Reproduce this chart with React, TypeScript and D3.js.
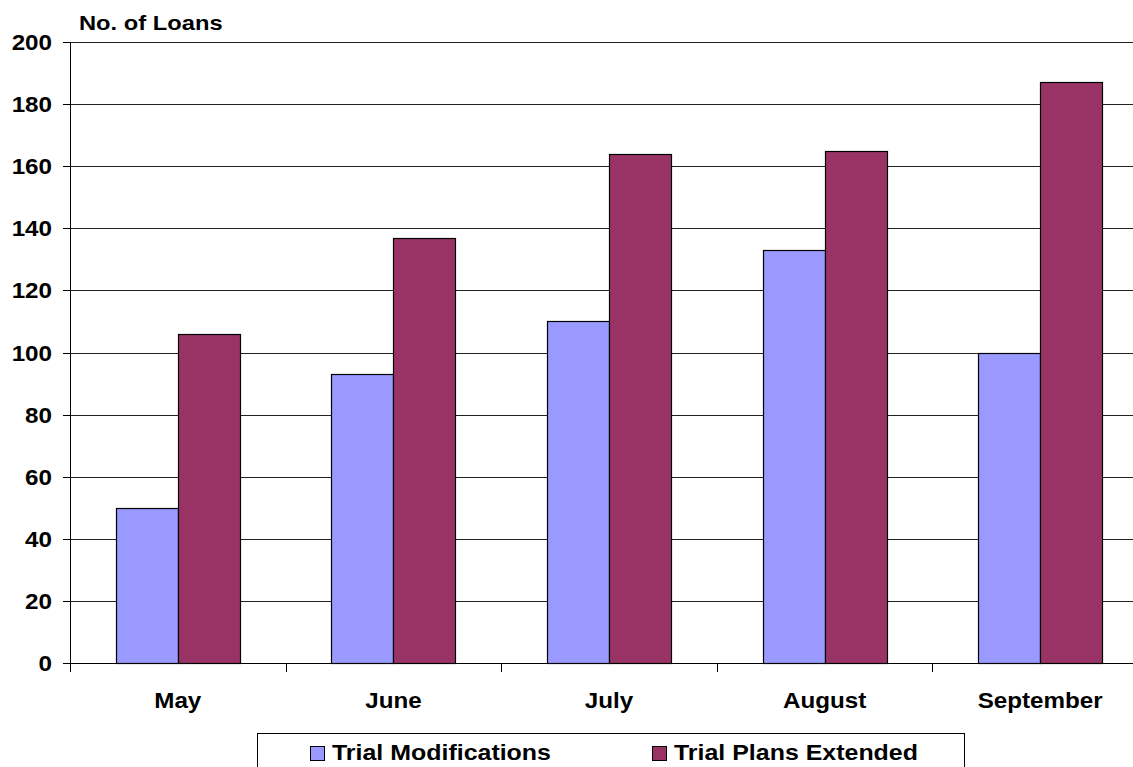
import React from "react";
import * as d3 from "d3";

const months = ["May", "June", "July", "August", "September"];
const trialModifications = [50, 93, 110, 133, 100];
const trialPlansExtended = [106, 137, 164, 165, 187];
const yTicks = [0, 20, 40, 60, 80, 100, 120, 140, 160, 180, 200];
const seriesNames = ["Trial Modifications", "Trial Plans Extended"];
const seriesColors = ["#9999FF", "#993366"];

const W = 1133;
const H = 767;
const FONT = "'Liberation Sans', Arial, sans-serif";

// Bold label, slightly widened horizontally
function Label(props: {
  x: number;
  y: number;
  size: number;
  sx?: number;
  anchor?: "start" | "middle" | "end";
  children: React.ReactNode;
}) {
  const { x, y, size, sx = 1.1, anchor = "start", children } = props;
  return (
    <text
      transform={`translate(${x},${y}) scale(${sx},1)`}
      textAnchor={anchor}
      fontSize={size}
      fontWeight="bold"
      fill="#000"
    >
      {children}
    </text>
  );
}

export default function App() {
  const left = 70;
  const catW = 215.6;
  const x0 = d3
    .scaleBand<string>()
    .domain(months)
    .range([left, left + catW * months.length])
    .padding(0);
  const barW = 62;
  const x1 = d3
    .scaleBand<string>()
    .domain(seriesNames)
    .range([-barW, barW])
    .padding(0);
  const y = d3.scaleLinear().domain([0, 200]).range([663, 42]);

  const series = [trialModifications, trialPlansExtended];

  return (
    <svg
      width={W}
      height={H}
      style={{ position: "absolute", left: 0, top: 0, background: "#fff" }}
      fontFamily={FONT}
    >
      <rect x={0} y={0} width={W} height={H} fill="#fff" />
      {/* horizontal gridlines */}
      {yTicks.map((t) => (
        <line
          key={"g" + t}
          x1={left}
          x2={W}
          y1={Math.round(y(t)) + 0.5}
          y2={Math.round(y(t)) + 0.5}
          stroke={t === 0 ? "#000" : "#222"}
          strokeWidth={1}
        />
      ))}
      {/* y axis ticks and labels */}
      {yTicks.map((t) => (
        <g key={"t" + t}>
          <line
            x1={left - 7}
            x2={left}
            y1={Math.round(y(t)) + 0.5}
            y2={Math.round(y(t)) + 0.5}
            stroke="#000"
          />
          <Label x={52} y={y(t) + 8} size={22} anchor="end">
            {t}
          </Label>
        </g>
      ))}
      {/* bars */}
      {months.map((m, i) => {
        const cx = (x0(m) as number) + x0.bandwidth() / 2;
        return (
          <g key={m}>
            {seriesNames.map((s, k) => {
              const v = series[k][i];
              const bx = cx + (x1(s) as number);
              return (
                <rect
                  key={s}
                  x={Math.round(bx) + 0.5}
                  y={Math.round(y(v)) + 0.5}
                  width={x1.bandwidth()}
                  height={Math.round(y(0)) - Math.round(y(v))}
                  fill={seriesColors[k]}
                  stroke="#000"
                  strokeWidth={1.2}
                />
              );
            })}
          </g>
        );
      })}
      {/* y axis line */}
      <line x1={left + 0.5} x2={left + 0.5} y1={y(200)} y2={672} stroke="#000" />
      {/* x axis category ticks */}
      {months.map((m) => (
        <line
          key={"xt" + m}
          x1={Math.round(x0(m) as number) + 0.5}
          x2={Math.round(x0(m) as number) + 0.5}
          y1={663}
          y2={672}
          stroke="#000"
        />
      ))}
      {/* category labels */}
      {months.map((m) => (
        <Label
          key={"xl" + m}
          x={(x0(m) as number) + x0.bandwidth() / 2}
          y={708}
          size={22}
          anchor="middle"
        >
          {m}
        </Label>
      ))}
      {/* axis title */}
      <Label x={79} y={30} size={21} sx={1.13}>
        No. of Loans
      </Label>
      {/* legend */}
      <rect
        x={257.5}
        y={733.5}
        width={707}
        height={60}
        fill="#fff"
        stroke="#000"
        strokeWidth={1}
      />
      {seriesNames.map((s, k) => {
        const lx = k === 0 ? 310 : 652;
        return (
          <g key={"lg" + s}>
            <rect
              x={lx + 0.5}
              y={746.5}
              width={14}
              height={14}
              fill={seriesColors[k]}
              stroke="#000"
              strokeWidth={1}
            />
            <Label x={lx + 22} y={760} size={23} sx={1.085}>
              {s}
            </Label>
          </g>
        );
      })}
    </svg>
  );
}
